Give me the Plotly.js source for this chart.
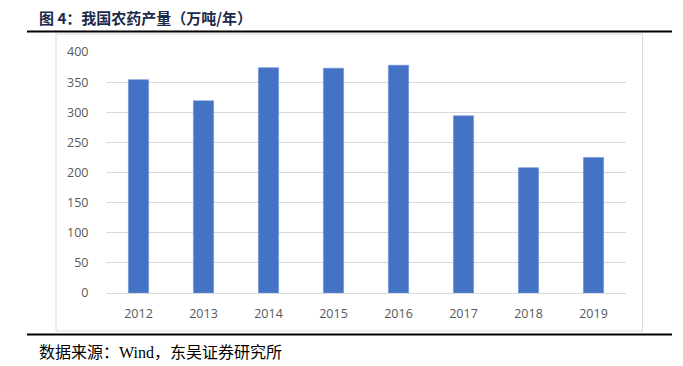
<!DOCTYPE html>
<html>
<head>
<meta charset="utf-8">
<script src="https://cdn.plot.ly/plotly-3.0.1.min.js"></script>
<style>html,body{margin:0;padding:0;background:#fff;}#chart{width:683px;height:366px;}</style>
</head>
<body>
<div id="chart"></div>
<script>
const years = ['2012','2013','2014','2015','2016','2017','2018','2019'];
const output = [354, 319, 374, 373, 378, 294, 208, 225];
const yTicks = [0, 50, 100, 150, 200, 250, 300, 350, 400];
const titleText = '图 4：我国农药产量（万吨/年）';
const sourceText = '数据来源：Wind，东吴证券研究所';

// pixel -> paper helpers (plot area: x 106..626, y 52..293)
const L = 106, R = 626, T = 52, B = 293;
const px = v => (v - L) / (R - L);
const py = v => (B - v) / (B - T);

const trace = {
  type: 'bar',
  x: years,
  y: output,
  marker: {color: '#4472C4', line: {color: '#6A8FD6', width: 0.6}},
  hoverinfo: 'x+y'
};

const layout = {
  width: 683, height: 366,
  margin: {l: L, r: 683 - R, t: T, b: 366 - B, pad: 0},
  paper_bgcolor: '#fff', plot_bgcolor: '#fff',
  showlegend: false,
  bargap: 0.69,
  font: {family: '"Open Sans", "Noto Sans", sans-serif', color: '#595959', size: 12.5},
  xaxis: {
    type: 'category',
    showgrid: false, zeroline: false, showline: false,
    ticks: 'outside', ticklen: 9, tickcolor: 'rgba(0,0,0,0)',
    tickfont: {size: 12.5, color: '#595959'}
  },
  yaxis: {
    range: [0, 400],
    tickvals: yTicks,
    showgrid: true, gridcolor: '#D9D9D9', gridwidth: 1,
    zeroline: true, zerolinecolor: '#D9D9D9', zerolinewidth: 1,
    showline: false,
    ticks: 'outside', ticklen: 14, tickcolor: 'rgba(0,0,0,0)',
    tickfont: {size: 12.5, color: '#595959'}
  },
  shapes: [
    {type: 'rect', xref: 'paper', yref: 'paper', x0: px(56), x1: px(642.5), y0: py(331), y1: py(34),
     line: {color: '#D9D9D9', width: 1}, fillcolor: 'rgba(0,0,0,0)', layer: 'below'},
    {type: 'line', xref: 'paper', yref: 'paper', x0: px(27), x1: px(672), y0: py(31.5), y1: py(31.5),
     line: {color: '#000', width: 2}},
    {type: 'line', xref: 'paper', yref: 'paper', x0: px(27), x1: px(672), y0: py(334.5), y1: py(334.5),
     line: {color: '#000', width: 2}}
  ],
  annotations: [
    {text: '<b>' + titleText + '</b>', xref: 'paper', yref: 'paper', x: px(37), y: py(17),
     xanchor: 'left', yanchor: 'middle', showarrow: false,
     font: {family: '"Noto Sans CJK SC", sans-serif', size: 15, color: '#1B2A4A'}},
    {text: sourceText, xref: 'paper', yref: 'paper', x: px(37), y: py(352),
     xanchor: 'left', yanchor: 'middle', showarrow: false,
     font: {family: '"Liberation Serif", "Noto Sans CJK SC", serif', size: 16, color: '#000'}}
  ]
};

Plotly.newPlot('chart', [trace], layout, {displayModeBar: false, staticPlot: true});
</script>
</body>
</html>
